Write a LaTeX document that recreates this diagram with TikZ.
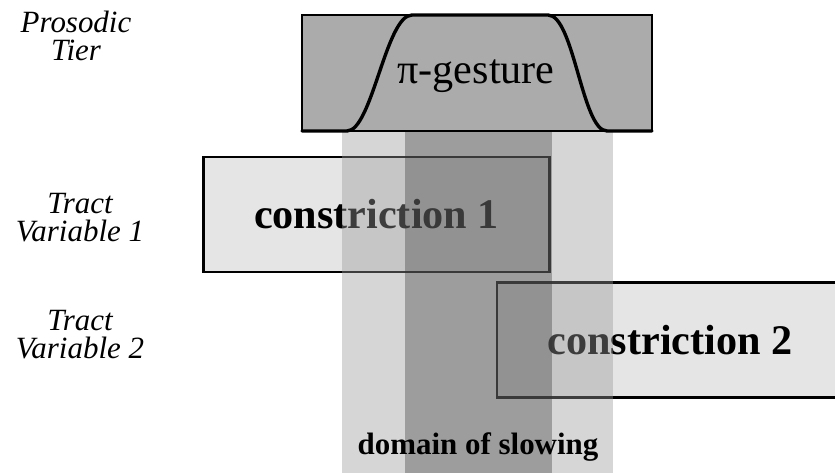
\documentclass[tikz,border=0pt]{standalone}
\usepackage{fontspec}
\setmainfont{Liberation Serif}
\usetikzlibrary{positioning}
\definecolor{tiergray}{gray}{0.67}
\definecolor{constgray}{gray}{0.90}
\tikzset{
  tierbox/.style={draw=black, line width=2pt, fill=tiergray,
    minimum width=8.75cm, minimum height=2.9cm, inner sep=0pt},
  constbox/.style={draw=black, line width=1.6pt, fill=constgray,
    minimum width=8.65cm, minimum height=2.875cm, inner sep=0pt,
    font=\fontsize{30}{36}\selectfont\bfseries},
  tierlabel/.style={align=center, inner sep=0pt, font=\fontsize{22}{20}\selectfont\itshape},
  gesture/.style={line width=2.4pt, line join=round, line cap=round},
  lightband/.style={fill=black!40, fill opacity=0.4},
  darkband/.style={fill=black!80, fill opacity=0.35},
}

\begin{document}
\begin{tikzpicture}[x=0.025cm, y=-0.025cm]
  \useasboundingbox (0,0) rectangle (835,473);
  \clip (0,0) rectangle (835,473);

  % tier labels
  \node[tierlabel] (prosodylab) at (76,36)  {Prosodic\\Tier};
  \node[tierlabel] (tract1lab)  at (80,218) {Tract\\Variable 1};
  \node[tierlabel] (tract2lab)  at (80,335) {Tract\\Variable 2};

  % tract variable gestures
  \node[constbox] (constr1) at (376.5,214.5) {constriction 1};
  \node[constbox] (constr2) at (670,340)     {constriction 2};

  % slowing bands
  \fill[lightband] (342,131) rectangle (613,473);
  \fill[darkband]  (405,131) rectangle (552,473);

  % prosodic gesture
  \node[tierbox] (prosodic) at (477,73) {};
  \draw[gesture] (302,131) -- (347,131)
    .. controls (372,131) and (386,15) .. (412,15) -- (548,15)
    .. controls (574,15) and (582,131) .. (607,131) -- (652,131);
  \node[font=\fontsize{30}{36}\selectfont] (pigesture) at (476,76) {π-gesture};

  \node[font=\fontsize{22}{26}\selectfont\bfseries] (domain) at (478,447) {domain of slowing};
\end{tikzpicture}
\end{document}
